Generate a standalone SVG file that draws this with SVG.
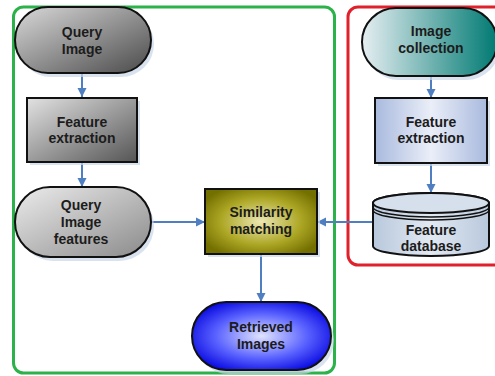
<svg xmlns="http://www.w3.org/2000/svg" width="495" height="376" viewBox="0 0 495 376">
<defs>
<style>
.lbl{font-family:"Liberation Sans",Arial,sans-serif;font-weight:bold;font-size:14px;fill:#1c1c1c;text-anchor:middle}
.node{stroke:#111;stroke-width:2}
.shadow{fill:#c9d5e8;opacity:0.7}
.conn{stroke:#4f7fc0;stroke-width:2;fill:none}
</style>
<linearGradient id="gDark" x1="0" y1="0" x2="1" y2="1">
<stop offset="0" stop-color="#d9d9d9"/><stop offset="1" stop-color="#4a4a4a"/>
</linearGradient>
<linearGradient id="gMid" x1="0" y1="0" x2="1" y2="1">
<stop offset="0" stop-color="#e2e2e2"/><stop offset="1" stop-color="#555"/>
</linearGradient>
<linearGradient id="gLight" x1="0" y1="0" x2="1" y2="1">
<stop offset="0" stop-color="#ececec"/><stop offset="1" stop-color="#8a8a8a"/>
</linearGradient>
<radialGradient id="gOlive" cx="0.5" cy="0.5" r="0.6">
<stop offset="0" stop-color="#ece8b4"/><stop offset="0.6" stop-color="#aca624"/><stop offset="1" stop-color="#747000"/>
</radialGradient>
<radialGradient id="gBlue" cx="0.5" cy="0.5" r="0.6">
<stop offset="0" stop-color="#e0e4ff"/><stop offset="0.55" stop-color="#5a62ff"/><stop offset="1" stop-color="#0000dd"/>
</radialGradient>
<linearGradient id="gTeal" x1="0" y1="0" x2="1" y2="0">
<stop offset="0" stop-color="#e6eef2"/><stop offset="1" stop-color="#007a72"/>
</linearGradient>
<linearGradient id="gPale" x1="0" y1="0" x2="1" y2="0">
<stop offset="0" stop-color="#a9bade"/><stop offset="0.5" stop-color="#eaeef8"/><stop offset="1" stop-color="#a9bade"/>
</linearGradient>
<linearGradient id="gCyl" x1="0" y1="0" x2="1" y2="0">
<stop offset="0" stop-color="#b8c8dc"/><stop offset="0.5" stop-color="#e2e9f2"/><stop offset="1" stop-color="#b8c8dc"/>
</linearGradient>
<marker id="ah" markerUnits="userSpaceOnUse" markerWidth="10" markerHeight="10" refX="9" refY="5" orient="auto">
<path d="M0,0.5 L9,5 L0,9.5 Z" fill="#4f7fc0"/>
</marker>
</defs>
<rect width="495" height="376" fill="#fff"/>

<g id="group-query">
<rect x="13.5" y="7" width="321" height="366" rx="10" fill="none" stroke="#2cb24a" stroke-width="3"/>
</g>
<g id="group-database">
<rect x="348" y="7" width="170" height="258" rx="10" fill="none" stroke="#e0202a" stroke-width="3"/>
</g>

<g id="connectors">
<line class="conn" x1="82" y1="73" x2="82" y2="97" marker-end="url(#ah)"/>
<line class="conn" x1="82" y1="162" x2="82" y2="187" marker-end="url(#ah)"/>
<line class="conn" x1="151" y1="222" x2="205" y2="222" marker-end="url(#ah)"/>
<line class="conn" x1="373" y1="222" x2="317" y2="222" marker-end="url(#ah)"/>
<line class="conn" x1="261" y1="254" x2="261" y2="302" marker-end="url(#ah)"/>
<line class="conn" x1="431" y1="76" x2="431" y2="98" marker-end="url(#ah)"/>
<line class="conn" x1="431" y1="163" x2="431" y2="193" marker-end="url(#ah)"/>
</g>

<g id="query-image">
<rect class="shadow" x="18" y="11" width="136" height="66" rx="33"/>
<rect class="node" x="15" y="7" width="136" height="66" rx="33" fill="url(#gDark)"/>
<text class="lbl" x="82" y="37">Query</text>
<text class="lbl" x="82" y="54">Image</text>
</g>

<g id="feature-extraction-left">
<rect class="shadow" x="30" y="101" width="110" height="64"/>
<rect class="node" x="27" y="98" width="110" height="64" fill="url(#gMid)"/>
<text class="lbl" x="82" y="127">Feature</text>
<text class="lbl" x="82" y="143">extraction</text>
</g>

<g id="query-image-features">
<rect class="shadow" x="18" y="191" width="136" height="70" rx="35"/>
<rect class="node" x="15" y="187" width="136" height="70" rx="35" fill="url(#gLight)"/>
<text class="lbl" x="81" y="210">Query</text>
<text class="lbl" x="81" y="227">Image</text>
<text class="lbl" x="81" y="244">features</text>
</g>

<g id="similarity-matching">
<rect class="shadow" x="208" y="192" width="112" height="65"/>
<rect class="node" x="205" y="189" width="112" height="65" fill="url(#gOlive)"/>
<text class="lbl" x="261" y="217">Similarity</text>
<text class="lbl" x="261" y="234">matching</text>
</g>

<g id="retrieved-images">
<rect class="shadow" x="195" y="306" width="139" height="68" rx="34"/>
<rect class="node" x="192" y="302" width="139" height="68" rx="34" fill="url(#gBlue)"/>
<text class="lbl" x="261" y="332">Retrieved</text>
<text class="lbl" x="261" y="349">Images</text>
</g>

<g id="image-collection">
<rect class="shadow" x="365" y="12" width="135" height="68" rx="34"/>
<rect class="node" x="362" y="8" width="135" height="68" rx="34" fill="url(#gTeal)"/>
<text class="lbl" x="431" y="36">Image</text>
<text class="lbl" x="431" y="53">collection</text>
</g>

<g id="feature-extraction-right">
<rect class="shadow" x="378" y="101" width="112" height="65"/>
<rect class="node" x="375" y="98" width="112" height="65" fill="url(#gPale)"/>
<text class="lbl" x="431" y="127">Feature</text>
<text class="lbl" x="431" y="143">extraction</text>
</g>

<g id="feature-database">
<path class="node" d="M373,203 L373,246 A58,10 0 0 0 489,246 L489,203 A58,10 0 0 0 373,203 Z" fill="url(#gCyl)"/>
<ellipse class="node" cx="431" cy="203" rx="58" ry="10" fill="#d6e0ec"/>
<path d="M373,207 A58,10 0 0 0 489,207" fill="none" stroke="#111" stroke-width="1.5"/>
<path d="M373,210 A58,10 0 0 0 489,210" fill="none" stroke="#111" stroke-width="1.5"/>
<text class="lbl" x="431" y="235">Feature</text>
<text class="lbl" x="431" y="251">database</text>
</g>
</svg>
